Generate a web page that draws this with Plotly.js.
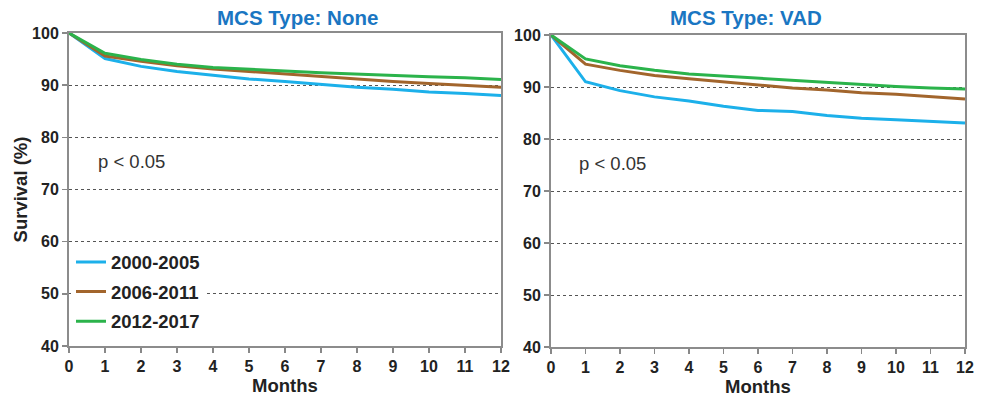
<!DOCTYPE html>
<html>
<head>
<meta charset="utf-8">
<script src="https://cdn.plot.ly/plotly-3.0.1.min.js"></script>
<style>
  html, body { margin: 0; padding: 0; background: #fff; }
  #chart { width: 981px; height: 403px; }
</style>
</head>
<body>
<div id="chart"></div>
<script>
// Months since transplant
const months = [0, 1, 2, 3, 4, 5, 6, 7, 8, 9, 10, 11, 12];
const eras = ['2000-2005', '2006-2011', '2012-2017'];

// Survival (%) with no mechanical circulatory support
const noneEarly = [100, 95.1, 93.6, 92.6, 91.9, 91.2, 90.7, 90.1, 89.6, 89.2, 88.7, 88.4, 88.0];
const noneMid   = [100, 95.6, 94.6, 93.7, 93.1, 92.6, 92.1, 91.6, 91.1, 90.7, 90.3, 89.9, 89.6];
const noneLate  = [100, 96.1, 94.9, 94.0, 93.4, 93.0, 92.7, 92.4, 92.1, 91.9, 91.6, 91.4, 91.1];

// Survival (%) with a ventricular assist device
const vadEarly = [100, 91.0, 89.3, 88.1, 87.3, 86.3, 85.5, 85.3, 84.5, 84.0, 83.7, 83.4, 83.1];
const vadMid   = [100, 94.4, 93.2, 92.2, 91.6, 91.0, 90.5, 89.8, 89.4, 88.9, 88.6, 88.2, 87.7];
const vadLate  = [100, 95.4, 94.1, 93.2, 92.5, 92.1, 91.6, 91.3, 90.9, 90.5, 90.1, 89.8, 89.6];

const panelTitles = ['MCS Type: None', 'MCS Type: VAD'];
const pLabel = 'p < 0.05';
const yTicks = [40, 50, 60, 70, 80, 90, 100];

const colors = ['#1cb0ea', '#a2652c', '#2bb34b'];
const FONT = 'Arial, "Liberation Sans", sans-serif';

function series(y, i, xa, ya, showLegend) {
  return {
    x: months, y: y, type: 'scatter', mode: 'lines',
    name: eras[i], legendgroup: 'g' + i,
    xaxis: xa, yaxis: ya, showlegend: showLegend,
    line: { color: colors[i], width: 3 },
    hoverinfo: 'x+y+name'
  };
}

const traces = [
  series(noneEarly, 0, 'x', 'y', true),
  series(noneMid, 1, 'x', 'y', true),
  series(noneLate, 2, 'x', 'y', true),
  series(vadEarly, 0, 'x2', 'y2', false),
  series(vadMid, 1, 'x2', 'y2', false),
  series(vadLate, 2, 'x2', 'y2', false)
];

function xAxis(domain, anchor) {
  return {
    domain: domain, anchor: anchor, range: [0, 12],
    tickmode: 'array', tickvals: months,
    ticks: 'outside', ticklen: 5, tickwidth: 1.5, tickcolor: '#888',
    showline: true, linecolor: '#8c8c8c', linewidth: 2, mirror: true,
    showgrid: false, zeroline: false,
    tickfont: { family: FONT, size: 16, color: '#222', weight: 'bold' },
    title: { text: '<b>Months</b>', font: { family: FONT, size: 18.5, color: '#222' }, standoff: 1 }
  };
}

function yAxis(domain, anchor, withTitle) {
  const ax = {
    domain: domain, anchor: anchor, range: [40, 100],
    tickmode: 'array', tickvals: yTicks,
    ticks: 'outside', ticklen: 5, tickwidth: 1.5, tickcolor: '#888',
    showline: true, linecolor: '#8c8c8c', linewidth: 2, mirror: true,
    showgrid: true, gridcolor: '#555', griddash: 'dot', gridwidth: 1,
    zeroline: false,
    tickfont: { family: FONT, size: 16, color: '#222', weight: 'bold' }
  };
  if (withTitle) {
    ax.title = { text: '<b>Survival (%)</b>', font: { family: FONT, size: 18.5, color: '#222' }, standoff: 0 };
  }
  return ax;
}

const layout = {
  width: 981, height: 403,
  margin: { l: 0, r: 0, t: 0, b: 0 },
  paper_bgcolor: '#fff', plot_bgcolor: '#fff',
  font: { family: FONT },
  xaxis: xAxis([69 / 981, 501 / 981], 'y'),
  yaxis: yAxis([1 - 346 / 403, 1 - 33 / 403], 'x', true),
  xaxis2: xAxis([551 / 981, 965 / 981], 'y2'),
  yaxis2: yAxis([1 - 347 / 403, 1 - 35 / 403], 'x2', false),
  legend: {
    x: 71 / 981, y: 1 - 243.5 / 403, xanchor: 'left', yanchor: 'top',
    bgcolor: '#fff', borderwidth: 0,
    font: { family: FONT, size: 18.5, color: '#222', weight: 'bold' },
    tracegroupgap: 2.5, itemwidth: 30
  },
  annotations: [
    { text: '<b>' + panelTitles[0] + '</b>', xref: 'paper', yref: 'paper',
      x: 297 / 981, y: 1 - 18 / 403, xanchor: 'center', yanchor: 'middle',
      showarrow: false, font: { family: FONT, size: 20.5, color: '#1a76c2' } },
    { text: '<b>' + panelTitles[1] + '</b>', xref: 'paper', yref: 'paper',
      x: 746 / 981, y: 1 - 18 / 403, xanchor: 'center', yanchor: 'middle',
      showarrow: false, font: { family: FONT, size: 20.5, color: '#1a76c2' } },
    { text: pLabel, xref: 'x', yref: 'y', x: 0.75, y: 75.3, xanchor: 'left',
      showarrow: false, font: { family: FONT, size: 18.5, color: '#333' } },
    { text: pLabel, xref: 'x2', yref: 'y2', x: 0.75, y: 75.3, xanchor: 'left',
      showarrow: false, font: { family: FONT, size: 18.5, color: '#333' } }
  ]
};

Plotly.newPlot('chart', traces, layout, { displayModeBar: false, staticPlot: true });
</script>
</body>
</html>
